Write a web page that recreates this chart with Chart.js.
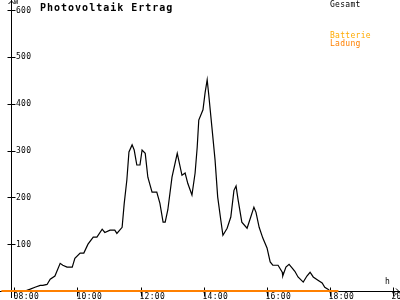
<!DOCTYPE html>
<html lang="de">
<head>
  <meta charset="UTF-8" />
  <title>Photovoltaik Ertrag</title>
  <script src="https://cdn.jsdelivr.net/npm/chart.js"></script>
  <style>
    html, body { margin: 0; padding: 0; background: #fff; }
    canvas { display: block; }
  </style>
</head>
<body>
  <canvas id="pvChart" width="400" height="300"></canvas>

  <script>
    // Gesamtleistung (W) über den Tag
    const gesamtZeit = [
      "08:20", "08:30", "08:39", "08:49", "08:54", "09:02", "09:08", "09:17", "09:27", "09:32",
      "09:40", "09:50", "09:55", "10:05", "10:12", "10:20", "10:30", "10:37", "10:47", "10:52",
      "11:02", "11:11", "11:15", "11:25", "11:29", "11:34", "11:38", "11:44", "11:48", "11:53",
      "11:59", "12:03", "12:09", "12:14", "12:22", "12:31", "12:37", "12:43", "12:47", "12:52",
      "13:00", "13:10", "13:19", "13:25", "13:30", "13:38", "13:44", "13:48", "13:51", "13:59",
      "14:03", "14:07", "14:10", "14:16", "14:22", "14:27", "14:33", "14:37", "14:45", "14:52",
      "14:58", "15:02", "15:06", "15:13", "15:23", "15:30", "15:36", "15:40", "15:46", "15:53",
      "16:01", "16:07", "16:12", "16:22", "16:30", "16:31", "16:37", "16:43", "16:49", "16:54",
      "17:00", "17:10", "17:17", "17:23", "17:29", "17:38", "17:46", "17:51", "17:57", "18:01"
    ];
    const gesamtWerte = [
      0, 4, 8, 12, 12, 14, 25, 32, 59, 55,
      51, 51, 70, 81, 81, 100, 115, 115, 132, 125,
      130, 130, 123, 136, 187, 237, 297, 312, 301, 269,
      269, 301, 294, 243, 211, 211, 187, 147, 147, 173,
      243, 294, 247, 252, 230, 205, 252, 307, 365, 387,
      423, 451, 419, 350, 280, 201, 151, 119, 134, 158,
      215, 224, 194, 147, 134, 158, 179, 168, 136, 113,
      92, 62, 55, 55, 40, 32, 51, 57, 49, 42,
      30, 19, 32, 40, 30, 23, 17, 8, 4, 0
    ];

    // Batterie-Ladung (W), den ganzen Tag 0
    const ladungZeit = ["07:35", "18:17"];
    const ladungWerte = [0, 0];

    // Achsenbeschriftung
    const xTicks = ["08:00", "10:00", "12:00", "14:00", "16:00", "18:00", "20:00"];
    const yTicks = [100, 200, 300, 400, 500, 600];

    const toHours = t => {
      const [h, m] = t.split(":").map(Number);
      return h + m / 60;
    };
    const mono = "'DejaVu Sans Mono', 'Liberation Mono', monospace";

    // Achsen, Pfeile, Beschriftungen im Stil des Originals
    const axesPlugin = {
      id: "pvAxes",
      beforeDatasetsDraw(chart) {
        const ctx = chart.ctx;
        const xs = chart.scales.x, ys = chart.scales.y;
        const x0 = Math.round(xs.getPixelForValue(xs.min)) + 0.5;
        const y0 = Math.round(ys.getPixelForValue(0)) + 0.5;
        ctx.save();
        ctx.strokeStyle = "#000";
        ctx.lineWidth = 1;
        ctx.beginPath();
        ctx.moveTo(0, y0); ctx.lineTo(chart.width, y0);
        ctx.moveTo(x0, 0); ctx.lineTo(x0, chart.height - 2);
        // Pfeile
        ctx.moveTo(x0 - 3, 4); ctx.lineTo(x0, 1); ctx.lineTo(x0 + 3, 4);
        ctx.moveTo(chart.width - 4, y0 - 3); ctx.lineTo(chart.width - 1, y0); ctx.lineTo(chart.width - 4, y0 + 3);
        yTicks.forEach(v => {
          const py = Math.round(ys.getPixelForValue(v)) + 0.5;
          ctx.moveTo(x0 - 4, py); ctx.lineTo(x0 + 4, py);
        });
        xTicks.forEach(t => {
          const px = Math.round(xs.getPixelForValue(toHours(t))) + 0.5;
          ctx.moveTo(px, y0 - 4); ctx.lineTo(px, y0 + 5);
        });
        ctx.stroke();
        ctx.restore();
      },
      afterDraw(chart) {
        const ctx = chart.ctx;
        const xs = chart.scales.x, ys = chart.scales.y;
        const x0 = xs.getPixelForValue(xs.min);
        const y0 = ys.getPixelForValue(0);
        ctx.save();
        ctx.fillStyle = "#000";
        ctx.font = "8px " + mono;
        ctx.letterSpacing = "0.3px";
        ctx.textBaseline = "middle";
        ctx.textAlign = "left";
        yTicks.forEach(v => {
          ctx.fillText(String(v), x0 + 5, ys.getPixelForValue(v) + 0.5);
        });
        ctx.textBaseline = "top";
        xTicks.forEach(t => {
          ctx.fillText(t, xs.getPixelForValue(toHours(t)) - 1, y0 + 2);
        });
        ctx.font = "7px " + mono;
        ctx.fillText("W", x0 + 3, -1);
        ctx.font = "8px " + mono;
        ctx.fillText("h", chart.width - 15, y0 - 13);

        // Titel
        ctx.font = "bold 10px " + mono;
        ctx.letterSpacing = "1px";
        ctx.fillText("Photovoltaik Ertrag", 40, 3);

        // Legende
        ctx.font = "8px " + mono;
        ctx.letterSpacing = "0.3px";
        ctx.fillStyle = "#000";
        ctx.fillText("Gesamt", 330, 1);
        ctx.fillStyle = "#ffaa00";
        ctx.fillText("Batterie", 330, 32);
        ctx.fillStyle = "#ff8000";
        ctx.fillText("Ladung", 330, 40);
        ctx.restore();
      }
    };

    new Chart(document.getElementById("pvChart"), {
      type: "line",
      data: {
        datasets: [
          {
            label: "Batterie Ladung",
            data: ladungZeit.map((t, i) => ({ x: toHours(t), y: ladungWerte[i] })),
            borderColor: "#ff8000",
            borderWidth: 2,
            clip: false
          },
          {
            label: "Gesamt",
            data: gesamtZeit.map((t, i) => ({ x: toHours(t), y: gesamtWerte[i] })),
            borderColor: "#000",
            borderWidth: 1.2
          }
        ]
      },
      options: {
        responsive: false,
        animation: false,
        layout: { padding: { left: 11, right: 2, top: 10, bottom: 9 } },
        elements: { point: { radius: 0 }, line: { tension: 0 } },
        plugins: { legend: { display: false }, tooltip: { enabled: false } },
        scales: {
          x: { type: "linear", display: false, min: 8 - 3.5 / 31.5, max: 8 + 383.5 / 31.5 },
          y: { type: "linear", display: false, min: 0, max: 600 }
        }
      },
      plugins: [axesPlugin]
    });
  </script>
</body>
</html>
